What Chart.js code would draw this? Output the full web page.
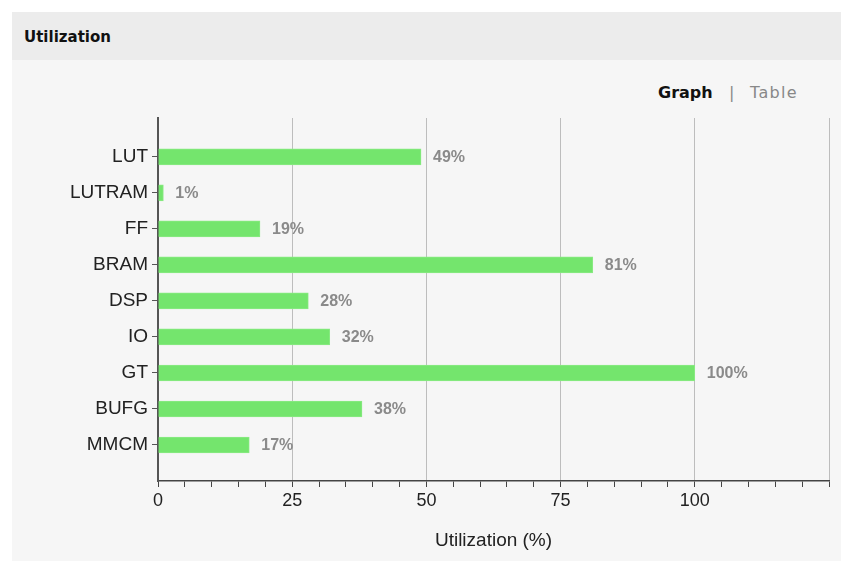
<!DOCTYPE html>
<html>
<head>
<meta charset="utf-8">
<script src="https://cdn.jsdelivr.net/npm/chart.js@4.4.0/dist/chart.umd.min.js"></script>
<style>
	body { margin: 0; background: #fff; font-family: "Liberation Sans", Arial, sans-serif; }
	#panel { position: absolute; left: 12px; top: 12px; width: 829px; height: 549px; background: #f6f6f6; }
	#header { height: 48px; background: #ececec; font-family: "DejaVu Sans", sans-serif; font-weight: bold; font-size: 15px; line-height: 51px; padding-left: 12px; color: #111; }
	.tab { position: absolute; top: 82px; font-family: "DejaVu Sans", sans-serif; font-size: 16px; line-height: 22px; }
	#wrap { position: absolute; left: 0; top: 0; width: 841px; height: 561px; }
</style>
</head>
<body>
<div id="panel"><div id="header">Utilization</div></div>
<div class="tab" style="left:658px;font-weight:bold;color:#111">Graph</div>
<div class="tab" style="left:729px;color:#888">|</div>
<div class="tab" style="left:750px;color:#888;letter-spacing:1.3px">Table</div>
<div id="wrap"><canvas id="c"></canvas></div>
<script>
"use strict";

const categories = ["LUT", "LUTRAM", "FF", "BRAM", "DSP", "IO", "GT", "BUFG", "MMCM"];
const utilization = [49, 1, 19, 81, 28, 32, 100, 38, 17];
const xTickLabels = [0, 25, 50, 75, 100];

const fontFamily = "'Liberation Sans', Arial, sans-serif";

// etichette percentuali a destra delle barre
const valueLabels = {
	id: "valueLabels",
	afterDatasetsDraw(chart) {
		const ctx = chart.ctx;
		const meta = chart.getDatasetMeta(0);
		ctx.save();
		ctx.font = "bold 16px " + fontFamily;
		ctx.fillStyle = "#8a8a8a";
		ctx.textBaseline = "middle";
		meta.data.forEach((bar, i) => {
			ctx.fillText(utilization[i] + "%", bar.x + 12, bar.y + 1);
		});
		ctx.restore();
	}
};

let chart = new Chart(document.getElementById("c"), {
	type: "bar",
	data: {
		labels: categories,
		datasets: [{
			data: categories.map((c, i) => ({ x: utilization[i], y: i })),
			backgroundColor: "#74e56d",
			borderColor: "#8aea84",
			borderWidth: 1,
			barThickness: 16
		}]
	},
	options: {
		indexAxis: "y",
		responsive: true,
		maintainAspectRatio: false,
		animation: false,
		layout: { padding: { top: 118, right: 12, left: 0, bottom: 0 } },
		plugins: { legend: { display: false }, tooltip: { enabled: false } },
		scales: {
			x: {
				type: "linear",
				min: 0,
				max: 125,
				border: { color: "#444", width: 1.5 },
				grid: {
					color: ctx => (ctx.tick && ctx.tick.value % 25 === 0 && ctx.tick.value > 0) ? "#bdbdbd" : "rgba(0,0,0,0)",
					tickColor: "#444",
					tickLength: 6,
					lineWidth: 1
				},
				ticks: {
					stepSize: 5,
					autoSkip: false,
					maxRotation: 0,
					color: "#222",
					font: { size: 18, family: fontFamily },
					padding: 3,
					callback: v => xTickLabels.includes(v) ? String(v) : ""
				},
				title: {
					display: true,
					text: "Utilization (%)",
					color: "#222",
					font: { size: 19, family: fontFamily },
					padding: { top: 4, bottom: 9 }
				},
				afterFit: axis => { axis.height = 80; }
			},
			y: {
				type: "linear",
				min: -1.08,
				max: 9,
				reverse: true,
				offset: false,
				border: { color: "#555", width: 2 },
				grid: { drawOnChartArea: false, offset: false, tickColor: "#555", tickLength: 6 },
				afterBuildTicks: axis => { axis.ticks = categories.map((c, i) => ({ value: i })); },
				ticks: {
					color: "#222",
					font: { size: 19, family: fontFamily },
					padding: 4,
					callback: v => categories[v] ?? ""
				},
				afterFit: axis => { axis.width = 158; }
			}
		}
	},
	plugins: [valueLabels]
});
</script>
</body>
</html>
